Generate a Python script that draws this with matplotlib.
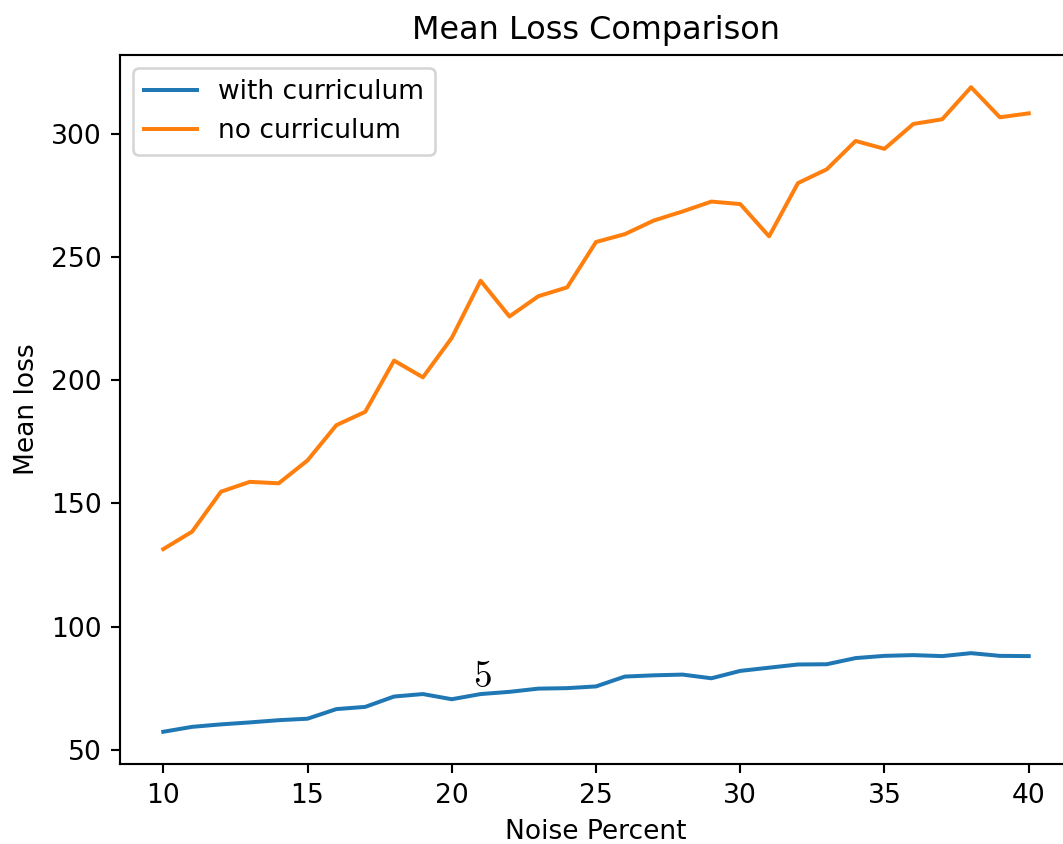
import matplotlib
matplotlib.use('Agg')
from matplotlib import pyplot as plt

plt.rcParams['mathtext.fontset'] = 'cm'

noise = list(range(10, 41))
with_curriculum = [57.3, 59.3, 60.3, 61.1, 62.0, 62.6, 66.5, 67.4, 71.6, 72.6,
                   70.5, 72.6, 73.5, 74.8, 75.0, 75.7, 79.7, 80.2, 80.5, 79.0,
                   82.0, 83.3, 84.6, 84.7, 87.2, 88.1, 88.4, 88.0, 89.2, 88.1,
                   88.0]
no_curriculum = [131.4, 138.5, 154.7, 158.7, 158.1, 167.4, 181.7, 187.1, 207.9, 201.1,
                 217.1, 240.3, 225.8, 234.0, 237.6, 256.0, 259.2, 264.7, 268.4, 272.4,
                 271.4, 258.3, 279.9, 285.5, 297.0, 293.8, 303.9, 305.8, 318.8, 306.6,
                 308.2]

W, H, DPI = 1063, 844, 191
fig = plt.figure(figsize=(W / DPI, H / DPI), dpi=DPI)
# axes extends slightly past the right edge, as in the cropped original
ax = fig.add_axes([120 / W, 1 - 764 / H, (1072 - 120) / W, (764 - 55) / H])

ax.plot(noise, with_curriculum, label='with curriculum')
ax.plot(noise, no_curriculum, label='no curriculum')
ax.text(21.05, 75.5, '$5$', ha='center', fontsize=14)

ax.set_title('Mean Loss Comparison')
ax.set_xlabel('Noise Percent')
ax.set_ylabel('Mean loss')
ax.legend(loc='upper left')

fig.savefig('out.png', dpi=DPI)
